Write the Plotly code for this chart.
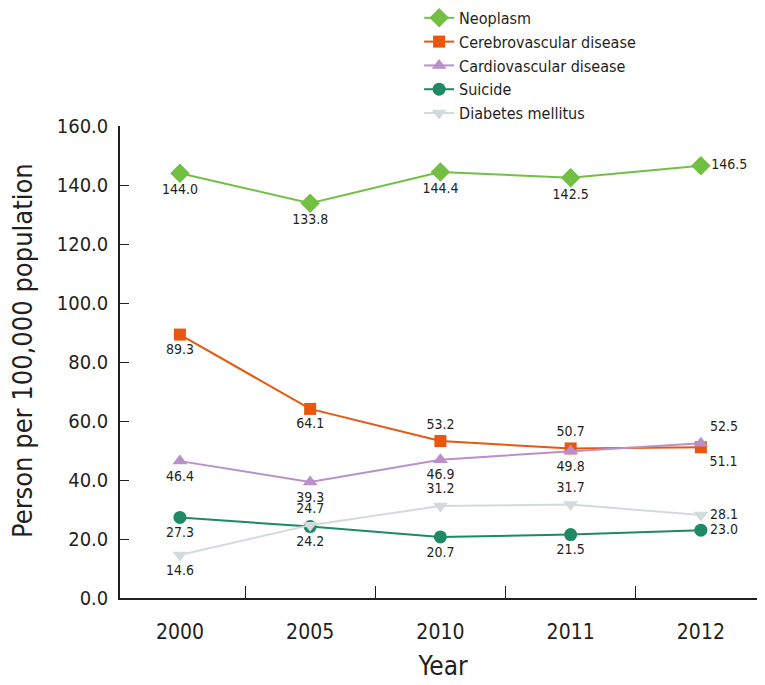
import plotly.graph_objects as go

years = ["2000", "2005", "2010", "2011", "2012"]

neoplasm = [144.0, 133.8, 144.4, 142.5, 146.5]
cerebro = [89.3, 64.1, 53.2, 50.7, 51.1]
cardio = [46.4, 39.3, 46.9, 49.8, 52.5]
suicide = [27.3, 24.2, 20.7, 21.5, 23.0]
diabetes = [14.6, 24.7, 31.2, 31.7, 28.1]

FONT = "DejaVu Sans Condensed, Liberation Sans Narrow, Roboto, sans-serif"
TXT = "#231f20"

series = [
    ("Neoplasm", neoplasm, "#72bf44", "diamond", 15,
     ["bottom center"] * 4 + ["middle right"]),
    ("Cerebrovascular disease", cerebro, "#e8560f", "square", 12,
     ["bottom center", "bottom center", "top center", "top center", "bottom right"]),
    ("Cardiovascular disease", cardio, "#bb8fc9", "triangle-up", 13,
     ["bottom center"] * 4 + ["top right"]),
    ("Suicide", suicide, "#1d8a63", "circle", 13,
     ["bottom center"] * 4 + ["middle right"]),
    ("Diabetes mellitus", diabetes, "#d3dade", "triangle-down", 13,
     ["bottom center", "top center", "top center", "top center", "middle right"]),
]

fig = go.Figure()
for name, vals, color, sym, size, pos in series:
    fig.add_trace(go.Scatter(
        x=years, y=vals, name=name,
        mode="lines+markers+text",
        line=dict(color=color, width=2),
        marker=dict(symbol=sym, size=size, color=color),
        text=[f"{v:.1f}" for v in vals],
        textposition=pos,
        textfont=dict(family=FONT, size=14, color=TXT),
        cliponaxis=False,
    ))

# y-axis title as an annotation so it can sit slightly above the plot centre
fig.add_annotation(
    text="Person per 100,000 population", textangle=-90,
    xref="paper", yref="paper", x=-0.152, y=0.525,
    xanchor="center", yanchor="middle", showarrow=False,
    font=dict(family=FONT, size=27, color=TXT),
)

fig.update_layout(
    width=765, height=685,
    margin=dict(l=112, r=7, t=118, b=95, autoexpand=False),
    paper_bgcolor="white", plot_bgcolor="white",
    font=dict(family=FONT, color=TXT),
    showlegend=True,
    legend=dict(
        x=0.463, y=1.265, xanchor="left", yanchor="top",
        font=dict(family=FONT, size=16, color=TXT),
        bgcolor="rgba(0,0,0,0)", tracegroupgap=0,
    ),
    xaxis=dict(
        type="category", range=[-0.46, 4.5], automargin=False,
        showline=True, linecolor="#231f20", linewidth=1.5,
        ticks="inside", tickson="boundaries", ticklen=12, tickcolor="#231f20",
        ticklabelstandoff=14,
        showgrid=False, zeroline=False,
        tickfont=dict(family=FONT, size=21, color=TXT),
        title=dict(text="Year", font=dict(family=FONT, size=26, color=TXT), standoff=14),
    ),
    yaxis=dict(
        range=[0, 160], dtick=20, tickformat=".1f", automargin=False,
        showline=True, linecolor="#231f20", linewidth=1.5,
        ticks="inside", ticklen=9, tickcolor="#231f20",
        ticklabelstandoff=6,
        showgrid=False, zeroline=False,
        tickfont=dict(family=FONT, size=20, color=TXT),
    ),
)

fig.write_html("out.html")
